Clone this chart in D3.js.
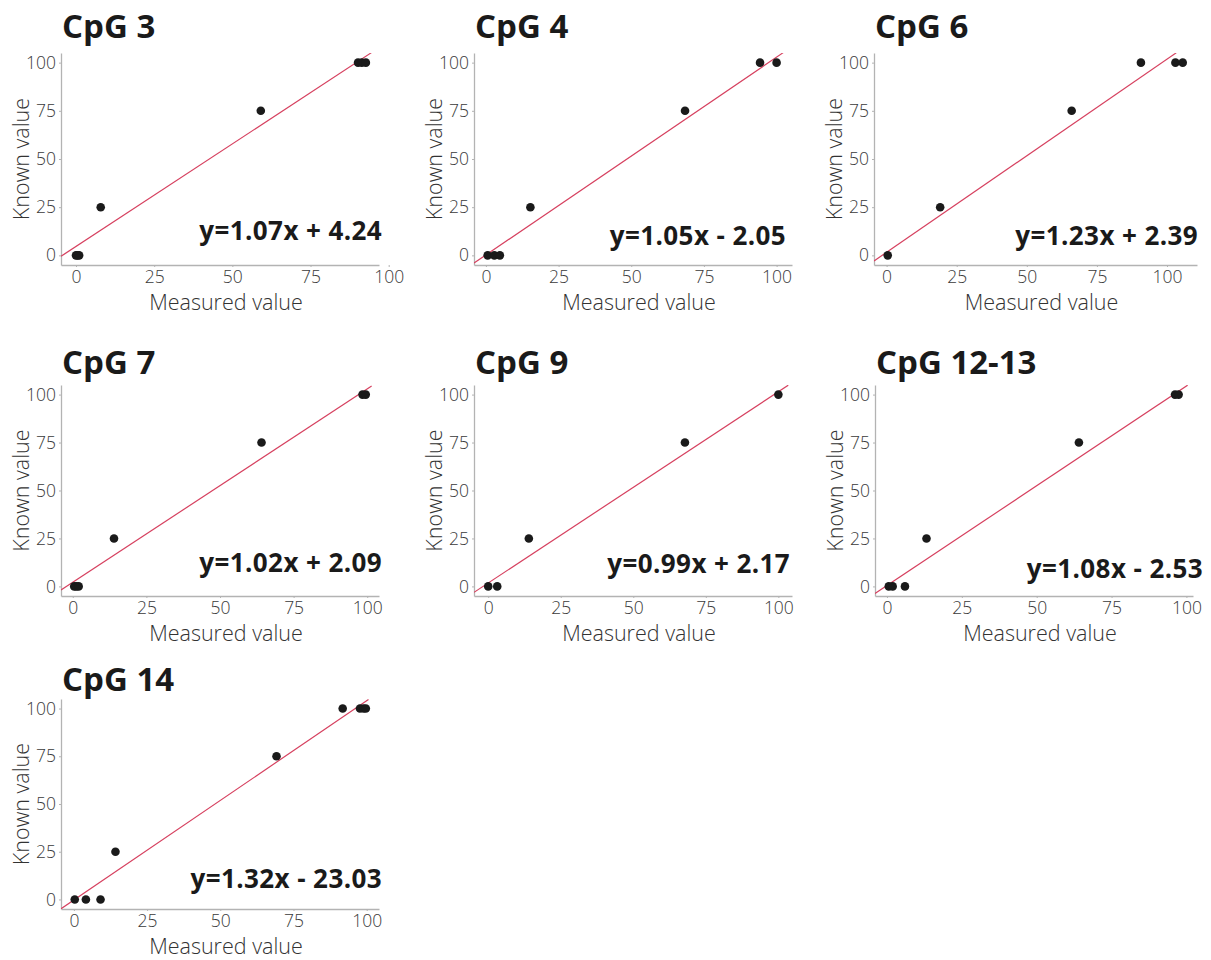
<!DOCTYPE html>
<html>
<head>
<meta charset="utf-8">
<script src="https://cdn.jsdelivr.net/npm/d3@7"></script>
<style>
  body { margin: 0; background: #fff; }
  text { font-family: "Open Sans", "Noto Sans", sans-serif; }
</style>
</head>
<body>
<div id="drawing"></div>
<script>
// ---- data ----
const titles = ["CpG 3", "CpG 4", "CpG 6", "CpG 7", "CpG 9", "CpG 12-13", "CpG 14"];
const equations = ["y=1.07x + 4.24", "y=1.05x - 2.05", "y=1.23x + 2.39", "y=1.02x + 2.09",
                   "y=0.99x + 2.17", "y=1.08x - 2.53", "y=1.32x - 23.03"];

const measured = [
  [0, 0.5, 1, 7.9, 59.1, 90.2, 91.4, 92.7],
  [0.6, 2.9, 4.8, 15.3, 68.5, 94.3, 100],
  [0.4, 19.1, 66, 90.7, 103, 105.6],
  [0.5, 1.2, 2, 14, 64.1, 98.4, 99.5],
  [0, 3.1, 14, 67.8, 100],
  [0.6, 1.9, 6, 13.2, 64.1, 96.2, 97.4],
  [0.3, 4.1, 9.1, 14.2, 69.2, 91.8, 97.7, 98.9, 99.7]
];
const known = [
  [0, 0, 0, 25, 75, 100, 100, 100],
  [0, 0, 0, 25, 75, 100, 100],
  [0, 25, 75, 100, 100, 100],
  [0, 0, 0, 25, 75, 100, 100],
  [0, 0, 25, 75, 100],
  [0, 0, 0, 25, 75, 100, 100],
  [0, 0, 0, 25, 75, 100, 100, 100, 100]
];

// fitted line end points as drawn (measured, known)
const fitLines = [
  [[-4.8, -0.5], [94.5, 105.2]],
  [[-4.1, -4.0], [102.3, 105.2]],
  [[-4.5, -2.9], [103.3, 105.1]],
  [[-4.0, -1.9], [101.5, 104.5]],
  [[-4.9, -3.1], [103.4, 104.9]],
  [[-4.0, -3.7], [100.4, 104.9]],
  [[-4.4, -4.9], [100.6, 104.7]]
];

const xDomains = [[-4.8, 96.9], [-4.1, 105.3], [-4.5, 110.7], [-4.0, 104], [-4.9, 104.7], [-4.0, 102.2], [-4.4, 104.2]];
const yDomain = [-5, 105];
const tickValues = [0, 25, 50, 75, 100];

// ---- layout (pixels) ----
const W = 1211, H = 960;
const panels = [
  {left: 61,  right: 379,  top: 53,  bottom: 265, titleY: 38,  eqDx: 3,   eqDy: -25},
  {left: 474, right: 792,  top: 53,  bottom: 265, titleY: 38,  eqDx: -6,  eqDy: -20},
  {left: 874, right: 1197, top: 53,  bottom: 265, titleY: 38,  eqDx: 1,   eqDy: -20},
  {left: 61,  right: 379,  top: 385, bottom: 596, titleY: 374, eqDx: 3,   eqDy: -24},
  {left: 474, right: 792,  top: 385, bottom: 596, titleY: 374, eqDx: -2,  eqDy: -23},
  {left: 875, right: 1193, top: 385, bottom: 596, titleY: 374, eqDx: 10,  eqDy: -18},
  {left: 61,  right: 379,  top: 699, bottom: 909, titleY: 691, eqDx: 3,   eqDy: -21}
];

const svg = d3.select("#drawing").append("svg")
  .attr("width", W)
  .attr("height", H)
  .style("background", "#fff");

titles.forEach((title, i) => {
  const p = panels[i];
  const g = svg.append("g");

  const xScale = d3.scaleLinear().domain(xDomains[i]).range([p.left, p.right]);
  const yScale = d3.scaleLinear().domain(yDomain).range([p.bottom, p.top]);

  // axes
  const xAxis = g.append("g")
    .attr("transform", `translate(0, ${p.bottom})`)
    .call(d3.axisBottom(xScale).tickValues(tickValues).tickSize(2).tickPadding(4).tickSizeOuter(0));
  const yAxis = g.append("g")
    .attr("transform", `translate(${p.left}, 0)`)
    .call(d3.axisLeft(yScale).tickValues(tickValues).tickSize(2).tickPadding(3).tickSizeOuter(0));

  [xAxis, yAxis].forEach(ax => {
    ax.select(".domain").attr("stroke", "#b3b3b3").attr("stroke-width", 1.3);
    ax.selectAll(".tick line").attr("stroke", "#b3b3b3");
    ax.selectAll(".tick text")
      .attr("fill", "#3a3a3a")
      .style("font-size", "17.5px")
      .style("font-weight", 300)
      .style("font-family", "'Open Sans', 'Noto Sans', sans-serif");
  });

  // clip for the fit line
  const clipId = "clip" + i;
  g.append("clipPath").attr("id", clipId)
    .append("rect")
    .attr("x", p.left).attr("y", p.top)
    .attr("width", p.right - p.left).attr("height", p.bottom - p.top);

  const line = d3.line()
    .x(d => xScale(d[0]))
    .y(d => yScale(d[1]));

  g.append("path")
    .attr("d", line(fitLines[i]))
    .attr("clip-path", `url(#${clipId})`)
    .attr("fill", "none")
    .attr("stroke", "#d6405f")
    .attr("stroke-width", 1.2);

  // points
  const pts = measured[i].map((m, j) => ({x: m, y: known[i][j]}));
  g.selectAll("circle")
    .data(pts)
    .join("circle")
    .attr("cx", d => xScale(d.x))
    .attr("cy", d => yScale(d.y))
    .attr("r", 4.3)
    .attr("fill", "#1a1a1a");

  // equation
  g.append("text")
    .attr("x", p.right + p.eqDx)
    .attr("y", p.bottom + p.eqDy)
    .attr("text-anchor", "end")
    .attr("fill", "#1a1a1a")
    .style("font-size", "26px")
    .style("font-weight", 700)
    .style("letter-spacing", "0.4px")
    .text(equations[i]);

  // title
  g.append("text")
    .attr("x", p.left + 1)
    .attr("y", p.titleY)
    .attr("fill", "#1a1a1a")
    .style("font-size", "33px")
    .style("font-weight", 700)
    .text(title);

  // axis titles
  g.append("text")
    .attr("x", (p.left + p.right) / 2 + 6)
    .attr("y", p.bottom + 45)
    .attr("text-anchor", "middle")
    .attr("fill", "#333")
    .style("font-size", "21.5px")
    .style("font-weight", 300)
    .text("Measured value");

  g.append("text")
    .attr("transform", `translate(${p.left - 41}, ${(p.top + p.bottom) / 2}) rotate(-90)`)
    .attr("text-anchor", "middle")
    .attr("dominant-baseline", "central")
    .attr("fill", "#333")
    .style("font-size", "21.5px")
    .style("font-weight", 300)
    .text("Known value");
});
</script>
</body>
</html>
